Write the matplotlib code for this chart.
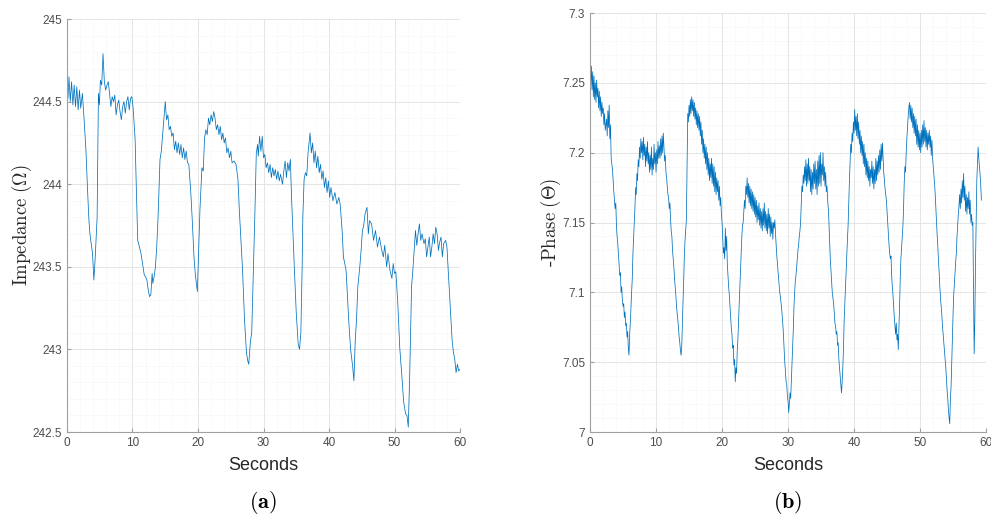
import numpy as np
import matplotlib
matplotlib.use("Agg")
import matplotlib.pyplot as plt
from matplotlib.ticker import MultipleLocator

plt.rcParams["mathtext.fontset"] = "cm"
plt.rcParams["font.family"] = ["Liberation Sans", "DejaVu Sans"]

# impedance trace (seconds, ohm)
imp_t = [
    0.0, 0.15, 0.3, 0.5, 0.7, 0.9, 1.1, 1.3, 1.5, 1.7, 1.9, 2.1, 2.35, 2.6, 2.9, 3.1, 3.35, 3.5, 3.7, 3.9,
    4.1, 4.3, 4.6, 4.8, 4.95, 5.1, 5.3, 5.5, 5.7, 5.9, 6.1, 6.3, 6.5, 6.7, 6.9, 7.1, 7.3, 7.5, 7.7, 7.9,
    8.1, 8.3, 8.5, 8.7, 8.9, 9.1, 9.3, 9.5, 9.7, 9.9, 10.1, 10.4, 10.6, 10.8, 11.0, 11.3, 11.6, 11.8, 12.0, 12.2,
    12.4, 12.6, 12.8, 13.0, 13.1, 13.3, 13.5, 13.7, 13.9, 14.2, 14.4, 14.7, 15.0, 15.2, 15.4, 15.6, 15.8, 16.0, 16.2, 16.4,
    16.6, 16.8, 17.0, 17.2, 17.4, 17.6, 17.8, 18.0, 18.2, 18.4, 18.6, 18.9, 19.1, 19.4, 19.6, 19.8, 19.9, 20.1, 20.3, 20.6,
    20.8, 21.0, 21.2, 21.4, 21.6, 21.8, 22.0, 22.2, 22.4, 22.6, 22.8, 23.0, 23.2, 23.4, 23.6, 23.8, 24.0, 24.2, 24.4, 24.6,
    24.8, 25.0, 25.2, 25.5, 25.8, 26.1, 26.3, 26.5, 26.8, 27.1, 27.4, 27.6, 27.75, 28.0, 28.2, 28.5, 28.7, 28.9, 29.1, 29.2,
    29.4, 29.6, 29.8, 30.0, 30.2, 30.4, 30.6, 30.8, 31.0, 31.2, 31.4, 31.6, 31.8, 32.0, 32.2, 32.4, 32.6, 32.9, 33.1, 33.3,
    33.5, 33.7, 33.9, 34.1, 34.3, 34.5, 34.7, 35.0, 35.3, 35.5, 35.7, 35.9, 36.0, 36.2, 36.4, 36.6, 36.8, 37.1, 37.3, 37.5,
    37.7, 37.9, 38.1, 38.3, 38.5, 38.7, 38.9, 39.1, 39.3, 39.5, 39.7, 39.9, 40.1, 40.3, 40.6, 40.9, 41.2, 41.5, 41.7, 42.0,
    42.2, 42.4, 42.6, 42.7, 43.0, 43.3, 43.6, 43.8, 44.0, 44.2, 44.4, 44.7, 44.9, 45.1, 45.3, 45.5, 45.8, 46.0, 46.2, 46.5,
    46.8, 47.1, 47.4, 47.7, 48.0, 48.3, 48.5, 48.8, 49.0, 49.3, 49.6, 49.8, 50.0, 50.2, 50.5, 50.8, 51.1, 51.4, 51.7, 51.9,
    52.1, 52.3, 52.6, 52.8, 53.0, 53.2, 53.4, 53.6, 53.8, 54.0, 54.2, 54.5, 54.7, 54.9, 55.1, 55.3, 55.5, 55.7, 55.9, 56.1,
    56.3, 56.5, 56.7, 56.9, 57.1, 57.3, 57.5, 57.8, 58.0, 58.2, 58.5, 58.8, 59.0, 59.2, 59.4, 59.6, 59.8, 60.0,
]
imp_val = [
    244.70, 244.52, 244.65, 244.50, 244.62, 244.48, 244.60, 244.47, 244.59, 244.45, 244.57, 244.46, 244.55, 244.40, 244.20, 244.00, 243.78, 243.70, 243.64, 243.58,
    243.42, 243.55, 243.80, 244.55, 244.48, 244.63, 244.60, 244.79, 244.62, 244.57, 244.60, 244.62, 244.55, 244.47, 244.53, 244.50, 244.54, 244.42, 244.48, 244.51,
    244.44, 244.39, 244.47, 244.50, 244.43, 244.50, 244.53, 244.45, 244.52, 244.53, 244.46, 244.27, 243.95, 243.66, 243.63, 243.58, 243.50, 243.45, 243.44, 243.42,
    243.36, 243.32, 243.33, 243.46, 243.40, 243.44, 243.50, 243.62, 243.80, 244.15, 244.20, 244.35, 244.50, 244.39, 244.42, 244.33, 244.35, 244.29, 244.31, 244.21,
    244.26, 244.19, 244.25, 244.18, 244.24, 244.16, 244.22, 244.15, 244.20, 244.13, 244.12, 243.95, 243.80, 243.55, 243.45, 243.38, 243.35, 243.60, 243.85, 244.10,
    244.08, 244.28, 244.33, 244.30, 244.40, 244.36, 244.42, 244.38, 244.44, 244.40, 244.33, 244.36, 244.30, 244.35, 244.27, 244.31, 244.25, 244.28, 244.19, 244.22,
    244.16, 244.20, 244.13, 244.14, 244.12, 244.03, 243.85, 243.70, 243.48, 243.18, 242.98, 242.93, 242.91, 243.05, 243.10, 243.55, 243.85, 244.19, 244.24, 244.17,
    244.29, 244.20, 244.29, 244.16, 244.18, 244.10, 244.13, 244.07, 244.12, 244.04, 244.10, 244.05, 244.09, 244.03, 244.08, 244.02, 244.06, 244.00, 244.08, 244.14,
    244.04, 244.13, 244.08, 244.15, 243.90, 243.70, 243.50, 243.22, 243.03, 243.00, 243.10, 243.50, 243.80, 244.03, 244.07, 244.05, 244.19, 244.31, 244.19, 244.25,
    244.13, 244.20, 244.10, 244.17, 244.07, 244.12, 244.03, 244.08, 243.98, 244.04, 243.95, 244.02, 243.92, 243.98, 243.90, 243.95, 243.88, 243.92, 243.88, 243.72,
    243.56, 243.52, 243.48, 243.41, 243.18, 243.00, 242.90, 242.81, 243.05, 243.18, 243.38, 243.50, 243.60, 243.72, 243.75, 243.82, 243.86, 243.70, 243.78, 243.76,
    243.66, 243.72, 243.62, 243.68, 243.61, 243.56, 243.63, 243.50, 243.58, 243.48, 243.43, 243.52, 243.46, 243.47, 243.28, 243.01, 242.85, 242.68, 242.61, 242.60,
    242.53, 242.81, 243.38, 243.48, 243.60, 243.72, 243.63, 243.70, 243.76, 243.66, 243.70, 243.64, 243.67, 243.56, 243.62, 243.68, 243.56, 243.62, 243.70, 243.64,
    243.74, 243.70, 243.60, 243.65, 243.68, 243.56, 243.64, 243.66, 243.62, 243.48, 243.28, 243.05, 242.98, 242.94, 242.86, 242.91, 242.87, 242.88,
]

# phase trace, one value every 0.1 s from 0 to 59.3 s
ph_val = [
    7.268, 7.250, 7.262, 7.245, 7.258, 7.240, 7.255, 7.238, 7.250, 7.236,
    7.252, 7.240, 7.246, 7.232, 7.244, 7.230, 7.240, 7.226, 7.236, 7.228,
    7.232, 7.220, 7.228, 7.216, 7.220, 7.224, 7.212, 7.230, 7.218, 7.234,
    7.210, 7.220, 7.196, 7.192, 7.188, 7.180, 7.172, 7.166, 7.160, 7.164,
    7.148, 7.140, 7.135, 7.128, 7.120, 7.112, 7.114, 7.100, 7.104, 7.094,
    7.090, 7.092, 7.082, 7.086, 7.076, 7.078, 7.068, 7.072, 7.060, 7.055,
    7.070, 7.078, 7.090, 7.100, 7.110, 7.128, 7.140, 7.150, 7.160, 7.175,
    7.170, 7.185, 7.180, 7.195, 7.190, 7.204, 7.196, 7.210, 7.200, 7.208,
    7.195, 7.211, 7.198, 7.206, 7.190, 7.204, 7.194, 7.208, 7.192, 7.200,
    7.186, 7.198, 7.188, 7.204, 7.184, 7.196, 7.188, 7.206, 7.192, 7.200,
    7.186, 7.202, 7.192, 7.208, 7.196, 7.205, 7.196, 7.210, 7.198, 7.212,
    7.200, 7.214, 7.204, 7.194, 7.198, 7.186, 7.182, 7.176, 7.170, 7.168,
    7.160, 7.164, 7.152, 7.144, 7.140, 7.130, 7.124, 7.118, 7.110, 7.104,
    7.098, 7.090, 7.085, 7.080, 7.075, 7.068, 7.064, 7.058, 7.055, 7.062,
    7.080, 7.095, 7.110, 7.128, 7.138, 7.145, 7.152, 7.190, 7.228, 7.222,
    7.234, 7.226, 7.238, 7.228, 7.240, 7.230, 7.238, 7.226, 7.236, 7.224,
    7.232, 7.220, 7.230, 7.218, 7.228, 7.216, 7.226, 7.212, 7.222, 7.206,
    7.216, 7.200, 7.210, 7.196, 7.206, 7.192, 7.204, 7.188, 7.200, 7.184,
    7.196, 7.180, 7.192, 7.182, 7.196, 7.178, 7.192, 7.176, 7.190, 7.172,
    7.186, 7.170, 7.182, 7.172, 7.180, 7.166, 7.176, 7.162, 7.168, 7.156,
    7.150, 7.138, 7.128, 7.132, 7.124, 7.146, 7.130, 7.140, 7.120, 7.112,
    7.104, 7.098, 7.090, 7.082, 7.075, 7.070, 7.060, 7.062, 7.048, 7.052,
    7.036, 7.046, 7.042, 7.058, 7.066, 7.080, 7.092, 7.104, 7.118, 7.128,
    7.140, 7.148, 7.150, 7.158, 7.166, 7.160, 7.176, 7.170, 7.182, 7.168,
    7.178, 7.164, 7.176, 7.162, 7.174, 7.160, 7.172, 7.158, 7.170, 7.156,
    7.168, 7.154, 7.166, 7.150, 7.162, 7.152, 7.164, 7.148, 7.160, 7.146,
    7.158, 7.144, 7.160, 7.148, 7.164, 7.146, 7.158, 7.144, 7.156, 7.142,
    7.160, 7.146, 7.156, 7.140, 7.154, 7.142, 7.150, 7.138, 7.150, 7.146,
    7.152, 7.142, 7.134, 7.126, 7.120, 7.114, 7.108, 7.102, 7.098, 7.094,
    7.090, 7.084, 7.078, 7.070, 7.060, 7.050, 7.044, 7.036, 7.034, 7.026,
    7.022, 7.014, 7.020, 7.028, 7.024, 7.036, 7.050, 7.060, 7.074, 7.090,
    7.100, 7.108, 7.112, 7.118, 7.124, 7.130, 7.134, 7.140, 7.144, 7.150,
    7.164, 7.176, 7.172, 7.184, 7.178, 7.190, 7.180, 7.195, 7.176, 7.192,
    7.178, 7.196, 7.180, 7.190, 7.172, 7.188, 7.170, 7.186, 7.174, 7.192,
    7.178, 7.194, 7.174, 7.188, 7.170, 7.194, 7.176, 7.198, 7.178, 7.200,
    7.176, 7.192, 7.184, 7.200, 7.180, 7.190, 7.176, 7.186, 7.172, 7.176,
    7.166, 7.160, 7.150, 7.136, 7.124, 7.116, 7.108, 7.100, 7.096, 7.092,
    7.086, 7.078, 7.076, 7.070, 7.072, 7.062, 7.064, 7.052, 7.046, 7.040,
    7.034, 7.028, 7.036, 7.046, 7.060, 7.080, 7.092, 7.106, 7.116, 7.130,
    7.138, 7.148, 7.165, 7.180, 7.192, 7.206, 7.200, 7.214, 7.208, 7.222,
    7.214, 7.231, 7.216, 7.226, 7.212, 7.228, 7.210, 7.222, 7.206, 7.216,
    7.200, 7.212, 7.198, 7.208, 7.192, 7.206, 7.190, 7.200, 7.184, 7.196,
    7.182, 7.194, 7.180, 7.190, 7.176, 7.188, 7.182, 7.194, 7.178, 7.190,
    7.174, 7.188, 7.178, 7.196, 7.180, 7.194, 7.184, 7.198, 7.186, 7.202,
    7.188, 7.206, 7.194, 7.207, 7.196, 7.186, 7.180, 7.174, 7.170, 7.166,
    7.158, 7.150, 7.142, 7.134, 7.128, 7.124, 7.126, 7.112, 7.104, 7.098,
    7.090, 7.082, 7.076, 7.070, 7.078, 7.066, 7.070, 7.059, 7.074, 7.090,
    7.110, 7.124, 7.132, 7.140, 7.147, 7.160, 7.178, 7.190, 7.186, 7.200,
    7.210, 7.218, 7.226, 7.232, 7.236, 7.224, 7.234, 7.222, 7.232, 7.218,
    7.228, 7.214, 7.226, 7.212, 7.224, 7.206, 7.220, 7.204, 7.216, 7.202,
    7.214, 7.200, 7.216, 7.204, 7.220, 7.206, 7.223, 7.208, 7.218, 7.204,
    7.216, 7.202, 7.214, 7.206, 7.216, 7.204, 7.212, 7.198, 7.209, 7.196,
    7.190, 7.184, 7.178, 7.170, 7.160, 7.150, 7.140, 7.132, 7.122, 7.114,
    7.104, 7.096, 7.090, 7.084, 7.076, 7.070, 7.064, 7.058, 7.052, 7.046,
    7.038, 7.030, 7.024, 7.016, 7.010, 7.006, 7.024, 7.032, 7.050, 7.070,
    7.084, 7.098, 7.106, 7.114, 7.122, 7.128, 7.140, 7.148, 7.156, 7.162,
    7.170, 7.160, 7.174, 7.164, 7.180, 7.168, 7.185, 7.166, 7.176, 7.158,
    7.170, 7.156, 7.168, 7.160, 7.172, 7.156, 7.166, 7.150, 7.156, 7.148,
    7.150, 7.100, 7.056, 7.080, 7.120, 7.152, 7.180, 7.192, 7.204, 7.196,
    7.190, 7.184, 7.176, 7.166,
]
ph_t = np.arange(len(ph_val)) * 0.1

imp_ticks = [242.5, 243, 243.5, 244, 244.5, 245]
imp_labels = ["242.5", "243", "243.5", "244", "244.5", "245"]
ph_ticks = [7, 7.05, 7.1, 7.15, 7.2, 7.25, 7.3]
ph_labels = ["7", "7.05", "7.1", "7.15", "7.2", "7.25", "7.3"]

line_color = "#0072BD"
tick_color = "#4d4d4d"

fig = plt.figure(figsize=(9.91, 5.17), dpi=100)
ax1 = fig.add_axes([0.0676, 0.1644, 0.3966, 0.7988])
ax2 = fig.add_axes([0.5954, 0.1644, 0.3996, 0.8104])


def style_axes(ax):
    ax.minorticks_on()
    ax.grid(which="major", color="#e0e0e0", linewidth=0.6)
    ax.grid(which="minor", color="#ececec", linewidth=0.5, linestyle=":")
    ax.set_axisbelow(True)
    for side in ["top", "right"]:
        ax.spines[side].set_visible(False)
    for side in ["left", "bottom"]:
        ax.spines[side].set_color("#a0a0a0")
        ax.spines[side].set_linewidth(0.8)
    ax.tick_params(which="both", direction="in", colors=tick_color, labelsize=8.5)
    ax.tick_params(which="major", length=3, color="#a0a0a0")
    ax.tick_params(which="minor", length=0)
    ax.set_xlabel("Seconds", fontsize=13, color="#262626", labelpad=6)


ax1.plot(imp_t, imp_val, color=line_color, linewidth=0.55)
ax1.set_xlim(0, 60)
ax1.set_ylim(242.5, 245)
ax1.xaxis.set_major_locator(MultipleLocator(10))
ax1.xaxis.set_minor_locator(MultipleLocator(2))
ax1.yaxis.set_minor_locator(MultipleLocator(0.1))
style_axes(ax1)
ax1.set_yticks(imp_ticks)
ax1.set_yticklabels(imp_labels)
ax1.set_ylabel(r"$\mathrm{Impedance\ (\Omega)}$", fontsize=13.5, color="#262626")
ax1.yaxis.set_label_coords(-0.085, 0.5)

ax2.plot(ph_t, ph_val, color=line_color, linewidth=0.55)
ax2.set_xlim(0, 60)
ax2.set_ylim(7, 7.3)
ax2.xaxis.set_major_locator(MultipleLocator(10))
ax2.xaxis.set_minor_locator(MultipleLocator(2))
ax2.yaxis.set_minor_locator(MultipleLocator(0.01))
style_axes(ax2)
ax2.set_yticks(ph_ticks)
ax2.set_yticklabels(ph_labels)
ax2.set_ylabel(r"$\mathrm{\text{-}Phase\ (\Theta)}$", fontsize=13.5, color="#262626")
ax2.yaxis.set_label_coords(-0.068, 0.5)

fig.text(0.2655, 0.028, r"$\mathbf{(a)}$", ha="center", va="center", fontsize=16)
fig.text(0.7952, 0.028, r"$\mathbf{(b)}$", ha="center", va="center", fontsize=16)

fig.savefig("out.png", dpi=100)
